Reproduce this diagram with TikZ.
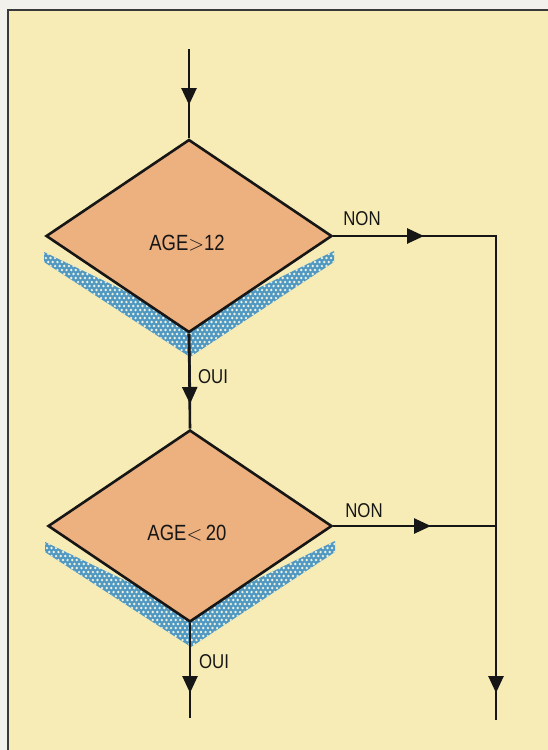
\documentclass[tikz,border=0pt]{standalone}
\usepackage{fontspec}
\setmainfont{Liberation Sans}[FakeStretch=0.84]
\usetikzlibrary{shapes.geometric,arrows.meta}
\definecolor{paper}{HTML}{F3F1EC}
\definecolor{cream}{HTML}{F8ECB6}
\definecolor{tanfill}{HTML}{EDB07F}
\definecolor{meshblue}{HTML}{4F98C2}
\definecolor{hole}{HTML}{EEF0DE}
\definecolor{ink}{HTML}{161616}
\newcommand\meshshadow[1]{%
  \begin{scope}[shift={(#1)}]
    \begin{scope}
      \clip (-145,16) -- (-70,52) -- (0,86) -- (145,15) -- (145,26) -- (1,121) -- (-145,26) -- cycle;
      \fill[meshblue] (-150,10) rectangle (150,125);
      \fill[hole] \foreach \j in {0,...,28} { \foreach \i in {0,...,66} { ({-150+\i*4.6+mod(\j,2)*2.3},{10+\j*4.0}) circle (1.35) } };
    \end{scope}
  \end{scope}}
\begin{document}
\begin{tikzpicture}[x=1pt,y=-1pt,
  decision/.style={diamond, draw=ink, line width=2.6pt, fill=tanfill, inner sep=0pt, line join=miter},
  flow/.style={draw=ink, line width=2.6pt, line join=miter},
  tipline/.style={draw=ink, line width=2.6pt, -{Triangle[length=17pt,width=15pt]}},
  cond/.style={font=\fontsize{22}{26}\selectfont, text=ink, inner sep=0pt},
  lab/.style={font=\fontsize{20}{24}\selectfont, text=ink, inner sep=0pt}
]
\useasboundingbox (0,0) rectangle (548,750);
\fill[paper] (0,0) rectangle (548,750);
\fill[cream] (8,10) rectangle (548,750);
\draw[ink!85, line width=2pt] (548,10) -- (8,10) -- (8,750);

% positions
\coordinate (c1) at (189,236);
\coordinate (c2) at (190,526);
\coordinate (s0) at (189,49);
\coordinate (a0) at (189,105);
\coordinate (a1) at (190,404);
\coordinate (a3) at (190,693);
\coordinate (e3) at (190,718);
\coordinate (rx) at (496,0);
\coordinate (rtip) at (496,693);
\coordinate (rend) at (496,720);
\coordinate (n1) at (424,0);
\coordinate (n2) at (431,0);

% shadows
\meshshadow{c1}
\meshshadow{c2}

% decisions
\node[decision, minimum width=286pt, minimum height=193pt] (d1) at (c1) {};
\node[decision, minimum width=284pt, minimum height=192pt] (d2) at (c2) {};
\node[cond] (t1) at (187,243) {AGE$>$12};
\node[cond] (t2) at (187,533) {AGE$<$\,20};

% vertical flow
\draw[flow] (s0) -- (d1.north);
\draw[tipline] (s0) -- (a0);
\draw[flow] (d1.south) -- (d2.north);
\draw[tipline] (d1.south) -- (a1);
\draw[flow] (d2.south) -- (e3);
\draw[tipline] (d2.south) -- (a3);

% NON branches
\draw[flow] (d1.east) -- (d1.east -| rx) -- (rend);
\draw[tipline] (d1.east) -- (d1.east -| n1);
\draw[tipline] (d1.east -| rx) -- (rtip);
\draw[flow] (d2.east) -- (d2.east -| rx);
\draw[tipline] (d2.east) -- (d2.east -| n2);

% labels
\node[lab] (l1) at (362,219) {NON};
\node[lab] (l2) at (364,511) {NON};
\node[lab] (l3) at (213,377) {OUI};
\node[lab] (l4) at (214,662) {OUI};
\end{tikzpicture}
\end{document}
